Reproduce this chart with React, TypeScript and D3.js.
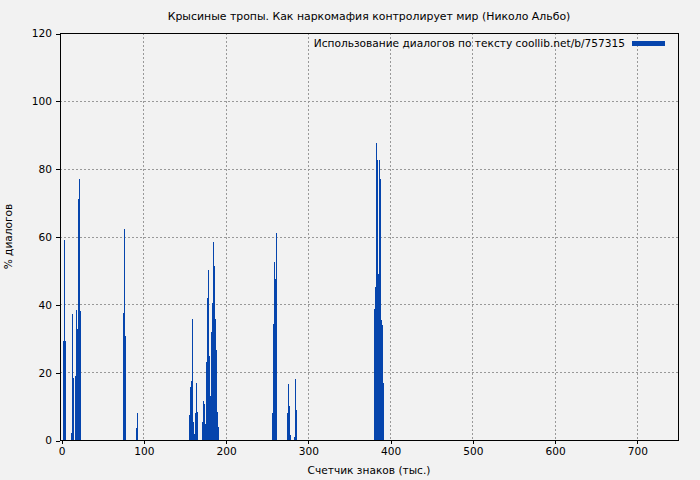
import React, { useEffect, useRef } from 'react';
import * as d3 from 'd3';

// Character counter (thousands) where each bar starts, and its share of dialogue (%)
const barStarts = [
  2.4, 3.6, 4.9, 12.2, 13.4, 14.6, 17.0, 18.2, 19.4, 20.7, 21.9, 23.1,
  75.4, 76.6, 77.8, 91.2, 92.4,
  155.6, 156.8, 158.0, 159.2, 160.5, 161.7, 162.9, 164.1, 165.3,
  171.4, 172.6, 173.8, 175.0, 176.3, 177.5, 178.7, 179.9, 181.1, 182.3,
  183.5, 184.8, 186.0, 187.2, 188.4, 189.6, 190.8,
  256.5, 257.7, 258.9, 260.1, 261.3,
  274.7, 275.9, 277.1, 278.3, 283.2, 284.4, 285.6,
  380.5, 381.7, 382.9, 384.1, 385.3, 386.6, 387.8, 389.0, 390.2, 391.4,
];
const dialogShare = [
  29.3, 59.1, 29.3, 2.1, 37.2, 18.3, 18.9, 38.4, 32.8, 71.2, 76.9, 38.1,
  37.5, 62.1, 30.7, 3.5, 8.0,
  7.4, 15.7, 17.4, 35.8, 5.3, 1.8, 8.0, 16.8, 8.3,
  5.3, 11.5, 10.6, 4.7, 23.1, 42.0, 50.0, 24.8, 13.0, 31.9,
  40.5, 58.5, 51.4, 35.8, 26.6, 8.3, 3.8,
  8.0, 34.3, 52.6, 47.6, 60.9,
  8.0, 16.6, 10.0, 1.5, 0.8, 18.0, 8.9,
  38.7, 45.2, 87.5, 82.5, 48.8, 82.5, 76.9, 35.5, 34.0, 16.8,
];
const BAR_STEP = 1.2155;
const xTicks = [0, 100, 200, 300, 400, 500, 600, 700];
const yTicks = [0, 20, 40, 60, 80, 100, 120];

const TITLE = 'Крысиные тропы. Как наркомафия контролирует мир (Николо Альбо)';
const LEGEND = 'Использование диалогов по тексту coollib.net/b/757315';
const X_LABEL = 'Счетчик знаков (тыс.)';
const Y_LABEL = '% диалогов';

const W = 700;
const H = 480;
// frame lines sit on pixels 60 / 678 (x) and 33 / 440 (y)
const FR = { left: 60, right: 678, top: 33, bottom: 440 };
const BAR_COLOR = '#0645ad';
const FONT = '"DejaVu Sans", sans-serif';
const FS = 10.6;

const App: React.FC = () => {
  const svgRef = useRef<SVGSVGElement>(null);

  useEffect(() => {
    if (!svgRef.current) return;
    const svg = d3.select(svgRef.current);
    svg.selectAll('*').remove();

    const x = d3.scaleLinear().domain([0, 750]).range([FR.left + 1, FR.right]);
    const y = d3.scaleLinear().domain([0, 120]).range([FR.bottom, FR.top]);

    svg.append('rect').attr('width', W).attr('height', H).attr('fill', '#f2f2f2');

    // Grid
    const grid = svg.append('g').attr('stroke', '#999').attr('stroke-dasharray', '2,2')
      .attr('shape-rendering', 'crispEdges');
    xTicks.filter(t => t > 0).forEach(t => {
      grid.append('line').attr('x1', Math.round(x(t)) + 0.5).attr('x2', Math.round(x(t)) + 0.5)
        .attr('y1', FR.top).attr('y2', FR.bottom);
    });
    yTicks.filter(t => t > 0 && t < 120).forEach(t => {
      grid.append('line').attr('y1', Math.round(y(t)) + 0.5).attr('y2', Math.round(y(t)) + 0.5)
        .attr('x1', FR.left).attr('x2', FR.right);
    });

    // Bars
    const data = barStarts.map((s, i) => ({ s, v: dialogShare[i] }));
    svg.append('g').attr('fill', BAR_COLOR).attr('shape-rendering', 'crispEdges')
      .selectAll('rect').data(data).enter().append('rect')
      .attr('x', d => Math.round(x(d.s)))
      .attr('width', d => Math.max(1, Math.round(x(d.s + BAR_STEP)) - Math.round(x(d.s))))
      .attr('y', d => Math.round(y(d.v)))
      .attr('height', d => Math.round(y(0)) - Math.round(y(d.v)));

    // Frame
    svg.append('rect').attr('x', FR.left + 0.5).attr('y', FR.top + 0.5)
      .attr('width', FR.right - FR.left).attr('height', FR.bottom - FR.top)
      .attr('fill', 'none').attr('stroke', '#000').attr('shape-rendering', 'crispEdges');

    // Axes
    const xAxis = svg.append('g').attr('transform', `translate(0.5,${FR.bottom})`)
      .call(d3.axisBottom(x).tickValues(xTicks).tickSize(4).tickPadding(3).tickFormat(d3.format('d')));
    const yAxis = svg.append('g').attr('transform', `translate(${FR.left},0.5)`)
      .call(d3.axisLeft(y).tickValues(yTicks).tickSize(4).tickPadding(4).tickFormat(d3.format('d')));
    [xAxis, yAxis].forEach(a => {
      a.select('.domain').remove();
      a.selectAll('text').attr('font-family', FONT).attr('font-size', FS).attr('fill', '#000');
      a.selectAll('line').attr('stroke', '#000').attr('shape-rendering', 'crispEdges');
    });

    // Texts
    svg.append('text').attr('x', 369).attr('y', 20).attr('text-anchor', 'middle')
      .attr('font-family', FONT).attr('font-size', 10.9).text(TITLE);
    svg.append('text').attr('x', (FR.left + FR.right) / 2).attr('y', 474).attr('text-anchor', 'middle')
      .attr('font-family', FONT).attr('font-size', FS).text(X_LABEL);
    svg.append('text').attr('transform', `translate(12,${(FR.top + FR.bottom) / 2}) rotate(-90)`)
      .attr('text-anchor', 'middle').attr('font-family', FONT).attr('font-size', FS).text(Y_LABEL);

    // Legend
    svg.append('text').attr('x', 625).attr('y', 47).attr('text-anchor', 'end')
      .attr('font-family', FONT).attr('font-size', FS).text(LEGEND);
    svg.append('rect').attr('x', 632).attr('y', 41).attr('width', 33).attr('height', 5).attr('fill', BAR_COLOR);
  }, []);

  return (
    <svg ref={svgRef} width={W} height={H}
      style={{ position: 'absolute', left: 0, top: 0, display: 'block' }} />
  );
};

export default App;
